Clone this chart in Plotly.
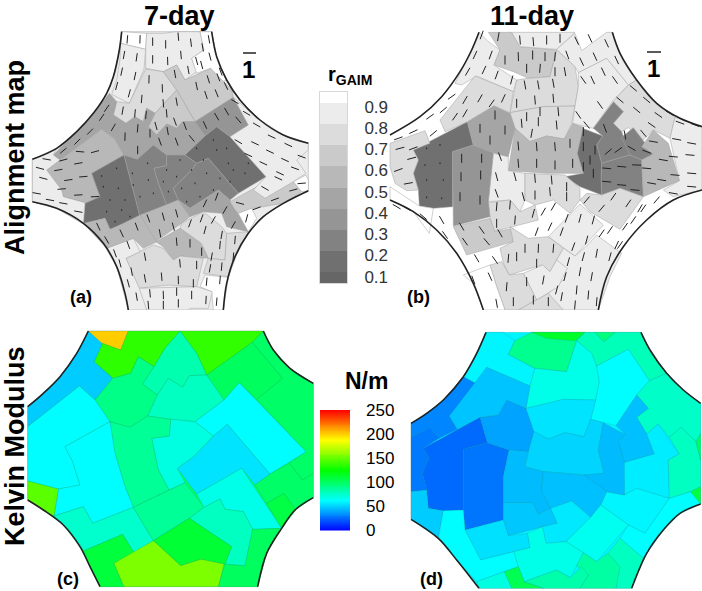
import math
import plotly.graph_objects as go
from plotly.colors import sample_colorscale

W, H = 702, 591

# ---------- value scales ----------
R_EDGES = [.07, .12, .22, .32, .42, .52, .62, .72, .82, .92, .97]
R_COLORS = ["#666666", "#707070", "#828282", "#959595", "#a5a5a5", "#b8b8b8", "#cacaca", "#dcdcdc", "#ececec", "#ffffff"]
R_TICKS = [.1, .2, .3, .4, .5, .6, .7, .8, .9]
K_TICKS = [0, 50, 100, 150, 200, 250]
K_SCALE = [[0, "#0000ff"], [.25, "#00ffff"], [.5, "#00ff00"], [.75, "#ffff00"], [1, "#ff0000"]]
K_VALUES = [2 * i + 1 for i in range(125)]

# ---------- outlines (top-left, top-right, bottom-right, bottom-left arcs) ----------
ARCS_A = [[(365,95),(358,150),(340,230),(320,280),(280,340),(230,395),(170,445),(97,478)],
          [(635,95),(650,170),(680,240),(720,300),(780,360),(850,405),(925,430)],
          [(925,572),(850,610),(790,650),(745,700),(705,770),(680,850),(670,930)],
          [(97,605),(170,625),(250,670),(310,730),(350,800),(375,880),(385,930)]]
ARCS_B = [[(297,97),(275,150),(240,215),(185,290),(120,350),(30,405)],
          [(697,97),(720,160),(770,240),(830,310),(900,355),(966,380)],
          [(966,570),(880,600),(800,660),(730,740),(680,830),(655,930)],
          [(30,600),(100,635),(170,690),(230,760),(280,850),(310,930)]]
ARCS_C = [[(265,63),(230,130),(180,200),(130,250),(83,290)],
          [(790,63),(820,120),(870,175),(940,220)],
          [(940,563),(885,600),(845,655),(800,730),(773,830)],
          [(83,570),(130,600),(190,645),(240,710),(270,770),(300,830)]]
ARCS_D = [[(318,67),(290,130),(250,200),(190,270),(140,310),(93,340)],
          [(783,67),(810,120),(860,190),(910,240),(962,280)],
          [(962,582),(900,610),(850,660),(800,730),(755,835)],
          [(93,628),(175,685),(230,750),(270,800),(297,835)]]

# ---------- cells: (value, vertices) ----------
CELLS_A = [
 (.85,[(97,478),(170,445),(230,395),(280,340),(320,280),(340,230),(358,150),(365,95),(635,95),(650,170),(680,240),(720,300),(780,360),(850,405),(925,430),(925,572),(850,610),(790,650),(745,700),(705,770),(680,850),(670,930),(385,930),(375,880),(350,800),(310,730),(250,670),(170,625),(97,605)]),
 (.95,[(365,95),(440,100),(437,148),(362,130)]),
 (.85,[(440,100),(490,100),(530,95),(600,95),(612,150),(575,175),(590,215),(555,240),(530,195),(490,215),(437,205),(437,148)]),
 (.95,[(600,95),(635,95),(650,170),(680,240),(655,248),(632,205),(590,220),(575,175),(612,150)]),
 (.85,[(362,130),(437,148),(432,207),(388,310),(335,283),(350,240),(360,180)]),
 (.75,[(437,207),(490,215),(530,270),(465,340),(440,325),(430,365),(405,350),(378,370),(340,345),(350,305),(388,310)]),
 (.65,[(490,215),(530,195),(555,240),(632,205),(695,270),(700,292),(585,365),(530,270)]),
 (.65,[(530,270),(585,365),(548,365),(530,385),(500,372),(470,405),(445,380),(465,340)]),
 (.45,[(328,280),(350,305),(340,345),(378,370),(345,418),(305,388),(180,480),(160,465),(230,395),(280,340)]),
 (.55,[(305,388),(345,418),(372,465),(275,520),(300,590),(255,608),(190,590),(185,570),(140,510),(180,480)]),
 (.45,[(378,370),(405,350),(430,365),(440,325),(465,340),(445,380),(470,405),(460,435),(412,478),(372,465),(345,418)]),
 (.45,[(470,405),(500,372),(530,385),(548,365),(585,365),(615,408),(555,465),(500,465),(460,435)]),
 (.35,[(585,365),(700,292),(745,375),(690,410),(650,380),(615,408)]),
 (.15,[(650,380),(690,410),(798,530),(715,580),(625,475),(590,490),(555,465),(615,408)]),
 (.15,[(372,465),(275,520),(300,590),(255,610),(250,672),(315,655),(330,688),(420,650),(405,590),(390,530)]),
 (.25,[(372,465),(412,478),(460,435),(500,465),(500,497),(462,505),(475,550),(500,615),(420,650),(405,590),(390,530)]),
 (.25,[(500,465),(555,465),(590,490),(575,510),(520,565),(535,600),(500,615),(475,550),(462,505),(500,497)]),
 (.25,[(625,475),(715,580),(690,600),(655,570),(570,625),(535,600),(520,565),(575,510),(590,490)]),
 (.55,[(420,645),(535,600),(570,650),(545,670),(465,725)]),
 (.45,[(570,650),(535,600),(570,625),(655,570),(690,600),(745,695),(680,680),(665,640),(610,635)]),
 (.75,[(545,670),(610,635),(665,680),(680,700),(675,780),(625,775),(605,730),(540,685)]),
 (.55,[(468,725),(540,685),(602,730),(625,775),(540,768),(520,780),(490,740)]),
 (.75,[(378,775),(460,735),(490,745),(520,780),(540,768),(610,775),(590,860),(505,855),(415,865)]),
 (.75,[(680,700),(745,695),(710,765),(685,830),(610,820),(625,775),(675,780)]),
 (.95,[(615,825),(685,832),(670,930),(640,930),(635,875),(600,860)]),
 (.85,[(415,865),(590,860),(637,875),(625,925),(570,925),(565,930),(440,930),(425,900)]),
 (.85,[(318,745),(400,715),(420,755),(378,775),(418,865),(440,930),(385,930),(350,800)]),
 (.55,[(250,670),(315,655),(330,690),(420,645),(470,725),(430,745),(400,715),(320,745)]),
 (.65,[(690,605),(780,555),(880,545),(905,575),(850,610),(760,625),(715,640),(705,630)]),
 (.95,[(715,640),(755,625),(770,655),(745,695)]),
 (.95,[(880,545),(918,525),(925,540),(925,572),(905,575)]),
 (.85,[(745,375),(700,292),(780,360),(850,405),(925,430),(925,450),(890,480),(918,520),(880,545),(795,595),(760,570),(798,530),(690,410)]),
 (.85,[(97,478),(170,445),(160,465),(180,480),(140,510),(185,570),(190,590),(255,608),(250,672),(170,625),(97,605)]),
]
CELLS_B = [
 (.85,[(297,97),(325,125),(360,150),(342,195),(410,240),(400,275),(290,228),(245,255),(225,250),(275,150)]),
 (.68,[(325,97),(395,97),(420,140),(530,150),(510,230),(445,235),(400,215),(342,195),(360,150)]),
 (.85,[(395,97),(585,97),(530,148),(420,140)]),
 (.75,[(530,150),(585,200),(595,260),(585,318),(490,320),(390,338),(410,240),(445,235),(510,230)]),
 (.75,[(390,338),(490,320),(585,318),(575,370),(553,417),(500,408),(450,425),(405,385)]),
 (.85,[(530,148),(585,100),(605,152),(680,97),(697,97),(720,160),(770,240),(745,255),(680,175),(595,218),(585,200)]),
 (.85,[(595,218),(680,175),(745,255),(700,300),(640,385),(578,370),(585,318),(595,260)]),
 (.75,[(770,240),(830,310),(885,352),(870,415),(820,390),(790,420),(745,383),(725,395),(700,370),(730,335),(700,305),(745,255)]),
 (.85,[(885,352),(966,380),(966,570),(880,590),(850,570),(898,542),(870,415)]),
 (.25,[(700,305),(730,335),(700,370),(725,395),(750,465),(665,490),(650,435),(668,408),(640,385)]),
 (.25,[(760,383),(820,462),(785,480),(750,465),(725,412)]),
 (.25,[(665,490),(750,465),(785,480),(790,590),(720,565),(665,585),(663,530)]),
 (.15,[(600,382),(668,408),(650,435),(665,490),(663,530),(665,585),(600,560),(555,530),(610,520),(590,465),(598,415)]),
 (.55,[(820,390),(865,430),(898,542),(790,590),(785,480),(820,462),(785,440)]),
 (.55,[(405,385),(450,425),(500,408),(553,417),(578,370),(610,382),(592,460),(610,520),(500,520),(385,512)]),
 (.85,[(325,605),(340,460),(385,470),(385,512),(435,520),(435,600),(420,635),(390,600)]),
 (.75,[(435,520),(555,525),(600,565),(600,600),(570,640),(520,600),(465,615),(435,600)]),
 (.75,[(325,608),(390,600),(420,635),(465,615),(475,660),(340,695),(330,650)]),
 (.75,[(600,600),(620,580),(665,585),(720,565),(790,590),(720,688),(630,635)]),
 (.12,[(100,450),(262,365),(280,435),(218,455),(218,620),(160,625),(118,618),(115,570),(100,520),(115,480)]),
 (.35,[(218,455),(280,435),(340,458),(325,605),(330,650),(220,678)]),
 (.45,[(262,365),(342,317),(390,340),(405,385),(385,470),(340,458),(280,435)]),
 (.75,[(180,360),(285,228),(400,275),(390,338),(342,317),(262,365),(195,395)]),
 (.75,[(30,430),(135,392),(150,430),(100,450),(115,480),(100,520),(115,570),(80,572),(45,550),(30,500)]),
 (.65,[(220,680),(330,655),(345,695),(400,685),(400,725),(260,765)]),
 (.85,[(505,710),(600,612),(670,675),(585,768)]),
 (.75,[(360,745),(400,725),(390,680),(445,715),(505,710),(550,745),(510,815),(485,795),(388,825),(370,790)]),
 (.85,[(620,738),(650,705),(725,760),(690,830),(655,930),(520,930),(505,880),(555,835),(530,780),(550,745),(585,768)]),
 (.85,[(430,820),(488,795),(510,815),(530,780),(562,805),(535,860),(470,900)]),
 (.75,[(330,795),(365,785),(388,825),(430,820),(470,900),(415,930),(375,930),(350,860)]),
 (.75,[(415,930),(505,880),(550,930)]),
 (.95,[(118,618),(160,625),(148,700),(100,635),(30,600),(30,560)]),
 (.95,[(250,825),(330,795),(350,860),(375,930),(310,930),(280,850)]),
]
CELLS_C = [
 (100,[(83,290),(130,250),(180,200),(230,130),(265,63),(790,63),(820,120),(870,175),(940,220),(940,563),(885,600),(845,655),(800,730),(773,830),(300,830),(270,770),(240,710),(190,645),(130,600),(83,570)]),
 (200,[(265,63),(385,63),(362,120),(300,98)]),
 (50,[(265,63),(308,102),(283,155),(338,205),(285,270),(238,228),(160,290),(83,350),(83,290),(130,250),(180,200),(230,130)]),
 (136,[(308,100),(362,120),(385,63),(540,63),(495,115),(462,170),(415,140),(392,190),(340,205),(283,155)]),
 (137,[(540,63),(790,63),(757,97),(620,195),(590,130)]),
 (102,[(620,195),(757,97),(848,205),(770,268),(718,218),(672,270)]),
 (100,[(757,97),(790,63),(820,120),(870,175),(940,220),(940,490),(908,510),(868,460),(918,425),(770,268),(848,205)]),
 (92,[(338,205),(392,190),(415,140),(462,170),(428,222),(472,255),(443,318),(390,352),(330,335),(285,270)]),
 (82,[(540,63),(590,130),(620,195),(568,197),(548,232),(505,205),(472,255),(428,222),(462,170),(495,115)]),
 (78,[(505,205),(548,232),(568,197),(620,195),(672,270),(585,335),(512,328),(443,318),(472,255)]),
 (62,[(718,218),(918,425),(810,492),(682,343),(640,378),(585,335),(672,270)]),
 (56,[(682,343),(810,492),(765,525),(725,475),(590,552),(532,475),(580,440),(640,378)]),
 (70,[(585,335),(640,378),(580,440),(532,475),(555,518),(507,540),(475,480),(455,385),(508,378),(512,328)]),
 (88,[(330,335),(390,352),(443,318),(512,328),(508,378),(455,385),(475,480),(507,540),(400,592),(375,530),(345,430)]),
 (62,[(83,350),(160,290),(238,228),(285,270),(330,335),(195,410),(218,455),(240,525),(175,537),(83,513)]),
 (62,[(330,335),(345,430),(375,530),(400,592),(278,640),(250,590),(162,618),(175,537),(240,525),(218,455),(195,410)]),
 (147,[(83,513),(175,537),(162,618),(130,600),(83,570)]),
 (75,[(162,618),(250,590),(278,640),(400,592),(460,692),(403,730),(368,673),(252,722),(190,645)]),
 (88,[(400,592),(555,518),(612,592),(568,625),(460,692)]),
 (68,[(590,552),(725,475),(845,655),(758,658),(730,605),(675,598),(660,567),(612,592)]),
 (78,[(612,592),(660,567),(675,598),(730,605),(758,658),(735,768),(675,762),(695,710),(568,625)]),
 (112,[(568,625),(695,710),(675,762),(603,748),(542,767),(460,692)]),
 (110,[(368,673),(403,730),(342,760),(372,830),(300,830),(270,770),(252,722)]),
 (156,[(460,692),(542,767),(603,748),(672,762),(655,830),(372,830),(342,760)]),
 (102,[(675,762),(735,768),(758,658),(845,655),(800,730),(773,830),(655,830)]),
 (100,[(810,492),(868,460),(908,510),(940,490),(940,563),(885,600),(852,550),(800,580),(765,525)]),
 (108,[(800,580),(852,550),(888,600),(845,655)]),
]
CELLS_D = [
 (60,[(93,340),(140,310),(190,270),(250,200),(290,130),(318,67),(783,67),(810,120),(860,190),(910,240),(962,280),(962,582),(900,610),(850,660),(800,730),(755,835),(297,835),(270,800),(230,750),(175,685),(93,628)]),
 (60,[(318,67),(368,67),(405,92),(385,133),(465,175),(450,228),(320,172),(290,222),(250,200),(290,130)]),
 (90,[(405,92),(455,67),(615,67),(590,92),(560,185),(465,175),(385,133)]),
 (115,[(455,67),(615,67),(585,92),(500,85)]),
 (80,[(590,92),(615,67),(645,67),(672,95),(705,67),(783,67),(810,120),(860,190),(808,212),(745,118),(650,168),(635,130)]),
 (95,[(645,67),(705,67),(672,95)]),
 (68,[(560,185),(590,92),(635,130),(650,168),(658,215),(647,270),(550,268),(438,295),(450,228),(465,175)]),
 (62,[(650,168),(745,118),(808,212),(770,255),(708,347),(632,328),(647,270),(658,215)]),
 (76,[(808,212),(860,190),(910,240),(962,280),(962,370),(948,395),(903,352),(868,382),(835,342),(800,372),(770,322),(805,295),(770,255)]),
 (47,[(770,255),(805,295),(770,322),(800,372),(823,432),(733,458),(715,395),(735,373),(708,347)]),
 (58,[(800,372),(835,342),(898,432),(865,450),(868,565),(770,535),(733,555),(730,458),(823,432)]),
 (78,[(868,382),(903,352),(948,395),(962,450),(962,530),(932,545),(868,565),(865,450),(898,432)]),
 (102,[(962,370),(962,450),(948,395)]),
 (110,[(932,545),(962,530),(962,582),(950,580)]),
 (60,[(770,535),(868,565),(795,670),(745,645),(662,585),(680,545),(733,555)]),
 (62,[(868,565),(932,545),(962,582),(900,610),(850,660),(800,730),(790,745),(720,685),(745,645),(795,670)]),
 (33,[(93,340),(140,310),(190,270),(250,200),(290,222),(208,318),(232,358),(178,385),(150,352),(93,382)]),
 (30,[(93,382),(150,352),(178,385),(130,415),(148,445),(127,487),(140,540),(93,545)]),
 (26,[(130,415),(300,322),(322,398),(250,418),(250,600),(190,602),(145,595),(140,540),(127,487),(148,445)]),
 (29,[(250,418),(322,398),(387,420),(370,500),(370,630),(255,660),(250,600)]),
 (40,[(300,322),(355,315),(380,270),(438,295),(462,365),(445,425),(387,420),(322,398)]),
 (48,[(208,318),(320,172),(450,228),(438,295),(380,270),(355,315),(300,322),(232,358)]),
 (56,[(438,295),(550,268),(647,270),(632,328),(612,380),(555,368),(505,387),(462,365)]),
 (52,[(462,365),(505,387),(555,368),(612,380),(632,328),(670,338),(655,420),(672,490),(620,495),(490,485),(435,470),(445,425)]),
 (46,[(670,338),(735,373),(715,395),(733,458),(733,555),(680,545),(612,495),(672,490),(655,420)]),
 (46,[(387,420),(445,425),(435,470),(490,485),(485,545),(512,595),(475,612),(458,578),(370,578),(370,500)]),
 (47,[(490,485),(612,495),(680,545),(662,585),(632,622),(575,573),(512,595),(485,545)]),
 (49,[(370,578),(458,578),(475,612),(512,595),(532,640),(385,677),(370,630)]),
 (57,[(512,595),(575,573),(632,622),(558,695),(498,700),(487,650),(532,640)]),
 (66,[(632,622),(662,585),(745,645),(650,755),(610,728),(558,695)]),
 (55,[(255,660),(370,630),(385,677),(443,670),(450,713),(302,750)]),
 (50,[(93,545),(140,540),(145,595),(190,602),(175,685),(93,628)]),
 (62,[(190,602),(250,600),(255,660),(302,750),(402,725),(415,770),(290,815),(230,750),(175,685)]),
 (68,[(402,725),(450,713),(443,670),(487,650),(498,700),(558,695),(610,728),(572,803),(530,780),(433,815),(415,770)]),
 (78,[(720,685),(790,745),(755,835),(708,835),(718,770),(683,730)]),
 (85,[(650,755),(683,730),(720,770),(708,835),(600,835),(625,795),(590,768),(610,728)]),
 (105,[(373,785),(415,770),(433,815),(492,835),(395,835)]),
 (83,[(433,815),(530,780),(570,803),(605,770),(625,795),(600,835),(492,835)]),
 (70,[(290,815),(373,785),(395,835),(297,835)]),
]

# ---------- orientation dashes: (x, y, angle in degrees) ----------
DASHES_A = [
 (382,118,85),(420,118,88),(458,125,90),(497,133,90),(535,110,95),(573,128,97),(608,142,100),(627,118,100),
 (372,165,80),(410,172,82),(458,178,90),(503,183,92),(543,165,95),(565,210,100),(590,183,105),(605,195,105),(630,170,105),
 (365,215,78),(405,228,78),(447,238,88),(487,265,92),(525,222,100),(590,258,102),(625,238,107),(655,232,110),(662,215,110),
 (350,258,75),(388,280,75),(425,297,85),(490,310,95),(530,305,100),(618,285,108),(650,280,112),(678,258,115),
 (368,332,80),(405,340,85),(438,345,85),(320,325,55),(340,382,60),(305,352,55),(270,395,45),(232,425,45),(190,452,40),
 (413,385,85),(413,450,90),(375,410,88),(450,400,90),(503,393,100),(468,378,105),(500,340,95),(525,365,110),
 (555,378,110),(615,375,115),(650,350,120),(680,335,120),(715,360,130),(705,305,150),(480,425,110),(530,425,110),(575,415,130),
 (740,340,150),(770,375,150),(815,410,155),(865,435,155),(715,425,150),(765,430,155),(810,455,155),(855,480,155),(905,470,160),
 (745,465,155),(790,490,155),(840,520,155),(885,505,160),(795,565,150),(835,535,155),
 (140,478,170),(120,505,165),(130,535,165),(110,580,170),(150,600,170),(190,610,170),(235,635,170),
 (240,455,175),(285,455,15),(190,480,15),(235,490,10),(175,510,10),(205,540,8),(250,530,5),(185,567,5),(235,585,3),(285,590,3),
 (445,655,110),(490,650,105),(530,640,105),(410,680,110),(365,700,115),(320,720,120),(295,680,115),
 (480,700,100),(520,680,105),(570,670,70),(605,655,70),(640,660,60),(650,590,70),(615,610,65),(675,630,60),(700,675,60),
 (720,610,165),(770,625,20),(825,598,20),(880,570,15),(740,655,75),(905,550,5),
 (530,725,95),(570,730,90),(605,755,90),(615,690,75),(665,705,80),(660,735,85),(635,770,80),(705,720,85),(700,770,85),(665,800,85),(630,805,80),
 (435,770,100),(345,760,110),(385,735,110),(360,790,105),(395,815,100),(435,835,100),(485,830,95),(540,790,95),(590,795,90),(535,840,92),(580,850,90),(620,845,85),(660,840,85),(650,905,85),
 (385,850,105),(410,890,100),(450,880,95),(490,885,92),(530,875,90),(575,885,90),(618,900,87),(445,915,95),(490,915,90),(535,910,90),
]
DOTS_A = [
 (350,505,90),(305,528,90),(397,520,90),(443,490,90),(310,560,90),(355,565,90),(400,555,90),(445,540,90),(330,600,90),(375,600,90),(420,590,90),(460,580,90),(320,635,90),(365,630,90),(345,665,90),(390,650,90),
 (500,510,90),(540,480,90),(490,545,90),(530,530,90),(575,510,90),(505,575,90),(545,565,90),(585,550,90),(620,520,90),(610,480,90),(650,450,90),(685,490,90),(640,420,90),(680,445,90),(700,510,90),(735,520,90),(660,535,90),(640,570,90),(600,590,90),(560,605,90),(690,545,90),(745,490,90),(590,445,90),
]
DASHES_B = [
 (305,105,70),(355,110,80),(420,120,95),(460,125,95),(500,120,90),(540,115,90),(590,122,115),(630,115,115),(680,130,115),
 (285,165,65),(332,165,70),(375,180,90),(415,170,92),(458,165,90),(495,170,90),(525,170,85),(562,165,110),(605,185,115),(645,170,115),(710,180,115),
 (263,215,60),(312,210,65),(350,225,70),(395,240,75),(440,205,90),(480,205,85),(525,215,90),(555,215,100),(638,240,115),(670,215,115),
 (55,415,20),(100,395,25),(160,400,40),(150,350,35),(215,290,35),(190,330,40),(60,445,15),(100,445,20),(55,510,20),(95,475,15),(85,550,10),
 (255,300,60),(300,295,60),(335,310,55),(370,295,65),(225,350,55),(255,340,60),(345,345,90),(300,385,90),(375,390,90),(330,420,90),
 (440,350,90),(480,335,90),(535,335,95),(425,370,95),(475,365,90),(530,375,95),(455,400,80),
 (435,255,100),(475,255,100),(520,250,100),(410,310,90),(465,300,95),(520,295,95),
 (415,438,95),(470,440,95),(525,440,95),(570,430,90),(415,490,95),(470,490,90),(525,495,90),(578,490,90),
 (245,475,90),(305,475,90),(243,530,90),(302,525,90),(240,590,90),(300,600,90),
 (360,470,110),(350,530,105),(405,530,105),(350,580,110),(430,590,105),(465,535,95),(515,540,95),(560,560,90),(465,585,90),(510,575,95),(560,590,90),
 (350,620,85),(390,615,85),(350,670,90),(405,660,85),(460,640,75),
 (185,660,120),(130,650,140),(80,625,150),(50,620,150),(195,705,125),(245,680,120),(255,725,125),(305,690,125),(320,725,130),(360,700,120),
 (490,635,60),(520,620,60),(470,695,70),(510,680,65),(545,695,70),(600,655,75),(640,660,75),(560,655,70),(620,600,50),(665,625,50),(700,590,55),(745,610,55),(780,625,60),(830,600,50),(690,690,55),(735,680,55),(665,700,55),(710,735,65),
 (580,740,70),(620,720,75),(565,785,75),(610,770,75),(650,760,80),(690,770,75),(520,745,85),(475,745,88),(435,745,90),(385,775,85),(410,770,90),(470,790,90),(555,830,75),(600,815,80),(635,830,80),
 (290,775,120),(345,780,125),(280,840,110),(330,830,115),(380,860,85),(440,845,90),(490,840,80),(530,870,75),(590,870,85),(625,885,85),(650,905,85),(350,910,100),(400,905,90),(460,900,90),(505,905,90),(545,890,80),(585,915,85),
 (685,455,40),(715,450,35),(680,505,175),(725,500,175),(770,495,178),(680,545,175),(725,555,175),(765,570,175),
 (610,395,90),(610,440,90),(645,450,90),(630,480,90),(610,500,90),(640,520,90),
 (675,385,110),(735,405,100),(790,400,130),(755,445,150),(800,455,160),(820,425,170),(850,480,170),(800,505,175),(845,540,170),(815,550,170),
 (760,265,140),(720,300,140),(800,300,140),(770,330,140),(835,345,145),(815,375,145),(870,340,150),
 (900,368,160),(945,375,160),(890,418,170),(935,430,170),(880,470,175),(930,465,175),(885,525,175),(935,520,175),(880,580,170),(935,560,175),
 (790,625,55),(760,660,55),(720,735,55),(610,240,125),(595,345,125),(620,375,130),(660,315,125),(705,240,125),
]
DOTS_B = [(140,445,90),(180,435,90),(135,495,90),(180,490,90),(140,540,90),(190,540,90),(140,592,90),(185,595,90)]

R_BAND = lambda v: R_COLORS[max(0, min(9, sum(1 for e in R_EDGES[1:-1] if v >= e)))]
K_COLOR = lambda v: sample_colorscale(K_SCALE, [v / 250])[0]

fig = go.Figure()

def add_cells(cells, color_of, idx, edge):
    for v, pts in cells:
        pts = pts + pts[:1]
        fig.add_trace(go.Scatter(x=[p[0] for p in pts], y=[p[1] for p in pts], mode="lines", fill="toself",
                                 fillcolor=color_of(v), line=dict(color=edge, width=0.5),
                                 xaxis=f"x{idx}", yaxis=f"y{idx}", showlegend=False, hoverinfo="skip"))

def add_arcs(arcs, idx):
    for a in arcs:
        fig.add_trace(go.Scatter(x=[p[0] for p in a], y=[p[1] for p in a], mode="lines",
                                 line=dict(color="#222222", width=1.6, shape="spline", smoothing=1),
                                 xaxis=f"x{idx}", yaxis=f"y{idx}", showlegend=False, hoverinfo="skip"))

def add_dashes(dashes, length, idx):
    xs, ys = [], []
    for x, y, a in dashes:
        dx = math.cos(math.radians(a)) * length / 2
        dy = -math.sin(math.radians(a)) * length / 2
        xs += [x - dx, x + dx, None]
        ys += [y - dy, y + dy, None]
    fig.add_trace(go.Scatter(x=xs, y=ys, mode="lines", line=dict(color="#222222", width=1),
                             xaxis=f"x{idx}", yaxis=f"y{idx}", showlegend=False, hoverinfo="skip"))

add_cells(CELLS_A, R_BAND, 1, "#a0a0a0")
add_dashes(DASHES_A, 25, 1); add_dashes(DOTS_A, 5, 1); add_arcs(ARCS_A, 1)
add_cells(CELLS_B, R_BAND, 2, "#a0a0a0")
add_dashes(DASHES_B, 27, 2); add_dashes(DOTS_B, 5, 2); add_arcs(ARCS_B, 2)
add_cells(CELLS_C, K_COLOR, 3, "rgba(40,110,90,0.35)"); add_arcs(ARCS_C, 3)
add_cells(CELLS_D, K_COLOR, 4, "rgba(40,110,110,0.35)"); add_arcs(ARCS_D, 4)

# colour bars, drawn on their own axes
fig.add_trace(go.Heatmap(x=[0, 1], y=R_EDGES, z=[[i] for i in range(10)], zmin=0, zmax=9, showscale=False,
                         colorscale=[[i / 9, c] for i, c in enumerate(R_COLORS)], xaxis="x5", yaxis="y5", hoverinfo="skip"))
fig.add_trace(go.Heatmap(x=[0, 1], y=[v - 1 for v in K_VALUES] + [250], z=[[v] for v in K_VALUES], zmin=0, zmax=250,
                         showscale=False, colorscale=K_SCALE, xaxis="x6", yaxis="y6", hoverinfo="skip"))

def px_dom(a, b, size):
    return [a / size, b / size]

panels = {1: (0, 320, 0, 310), 2: (380, 702, 0, 310), 3: (0, 320, 310, 591), 4: (380, 702, 310, 591)}
layout = dict(width=W, height=H, margin=dict(l=0, r=0, t=0, b=0, pad=0, autoexpand=False), paper_bgcolor="white",
              plot_bgcolor="rgba(0,0,0,0)", font=dict(family="Liberation Sans", color="black"), showlegend=False)
off = dict(visible=False, fixedrange=True)
for i, (x0, x1, y0, y1) in panels.items():
    layout[f"xaxis{i}"] = dict(off, domain=px_dom(x0, x1, W), range=[0, (x1 - x0) * 3], anchor=f"y{i}")
    layout[f"yaxis{i}"] = dict(off, domain=px_dom(H - y1, H - y0, H), range=[(y1 - y0) * 3, 0], anchor=f"x{i}")

layout["xaxis5"] = dict(domain=px_dom(319.5, 347, W), range=[0, 1], anchor="y5", showticklabels=False, ticks="", showgrid=False,
                        zeroline=False, showline=True, linecolor="#d8d8d8", linewidth=1, mirror=True, fixedrange=True)
layout["yaxis5"] = dict(domain=px_dom(H - 283, H - 92, H), range=[.07, .97], anchor="x5", side="right", showline=True, linecolor="#d8d8d8",
                        linewidth=1, mirror=True, showgrid=False, zeroline=False, ticks="", tickvals=R_TICKS,
                        ticktext=[f"{v:.1f}" for v in R_TICKS], ticklabelstandoff=13,
                        tickfont=dict(size=17, color="#333333"), fixedrange=True)
layout["xaxis6"] = dict(off, domain=px_dom(320, 350, W), range=[0, 1], anchor="y6")
layout["yaxis6"] = dict(domain=px_dom(H - 530.5, H - 410, H), range=[0, 250], anchor="x6", side="right", showline=False, showgrid=False,
                        zeroline=False, ticks="", tickvals=K_TICKS, ticklabelstandoff=15, tickfont=dict(size=17), fixedrange=True)
fig.update_layout(**layout)

def label(text, x, y, size, bold=True, rot=0, color="black"):
    fig.add_annotation(text=f"<b>{text}</b>" if bold else text, x=x / W, y=1 - y / H, xref="paper", yref="paper",
                       showarrow=False, font=dict(size=size, color=color), textangle=rot, xanchor="center", yanchor="middle")

label("7-day", 180, 16, 27)
label("11-day", 532, 16, 27)
label("Alignment map", 15, 158, 27, rot=-90)
label("Kelvin Modulus", 15, 446, 27, rot=-90)
label("(a)", 81, 297, 18)
label("(b)", 418, 297, 18)
label("(c)", 68, 579, 18)
label("(d)", 431, 579, 18)
label("1", 248, 69, 24)
label("1", 653, 68, 24)
label("r<sub>GAIM</sub>", 350, 75, 20)
label("N/m", 366, 381, 23)
for x0, x1, y in [(243, 256, 53), (647, 661, 52)]:
    fig.add_shape(type="line", xref="paper", yref="paper", x0=x0 / W, x1=x1 / W, y0=1 - y / H, y1=1 - y / H,
                  line=dict(color="#222222", width=1.5))

fig.write_html("out.html", config=dict(displayModeBar=False), post_script="document.body.style.margin='0';")
